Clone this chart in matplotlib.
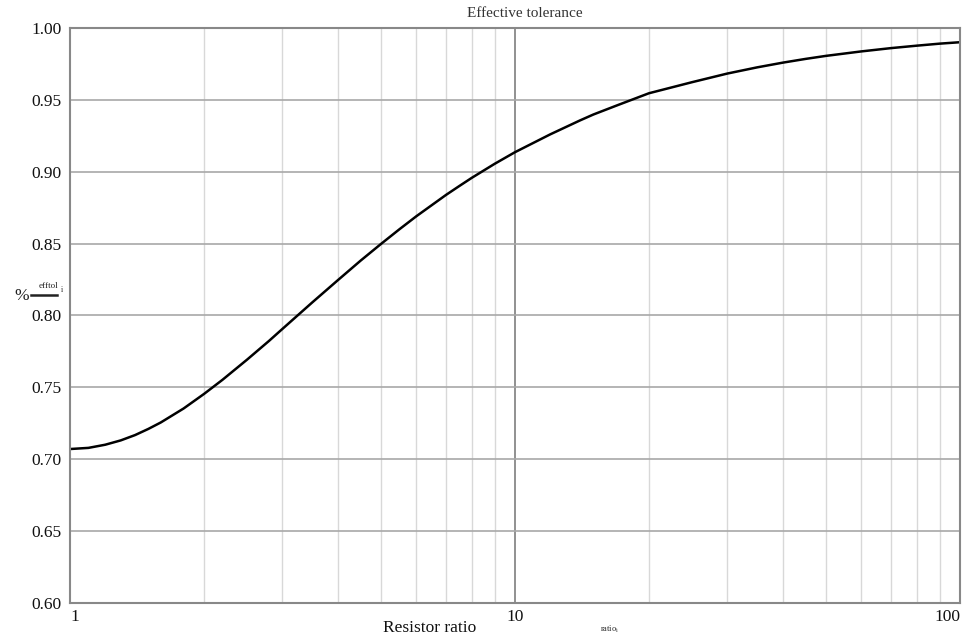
import matplotlib
matplotlib.use("Agg")
import matplotlib.pyplot as plt
from matplotlib.ticker import FixedLocator, NullFormatter

ratio = [1, 1.1, 1.2, 1.3, 1.4, 1.5, 1.6, 1.8, 2, 2.2, 2.5, 2.8, 3, 3.5, 4, 4.5, 5, 5.5, 6, 7,
         7.5, 8, 9, 10, 12, 14, 15, 17, 20, 25, 30, 35, 40, 45, 50, 60, 70, 80, 90, 100]
efftol = [0.7071, 0.7079, 0.7101, 0.7131, 0.7168, 0.7211, 0.7256, 0.7353, 0.7454, 0.7552,
          0.7693, 0.7823, 0.7906, 0.8090, 0.8246, 0.8382, 0.8498, 0.8600, 0.8690, 0.8839,
          0.8901, 0.8958, 0.9055, 0.9136, 0.9260, 0.9357, 0.9398, 0.9463, 0.9546, 0.9623,
          0.9683, 0.9726, 0.9759, 0.9785, 0.9806, 0.9837, 0.9860, 0.9877, 0.9891, 0.9901]
yticks = [0.60, 0.65, 0.70, 0.75, 0.80, 0.85, 0.90, 0.95, 1.00]
xticks = [1, 10, 100]
xminor = [2, 3, 4, 5, 6, 7, 8, 9, 20, 30, 40, 50, 60, 70, 80, 90]

plt.rcParams['font.family'] = ['Liberation Serif', 'DejaVu Serif']

fig = plt.figure(figsize=(9.75, 6.36), dpi=100)
ax = fig.add_axes([0.0718, 0.0519, 0.9128, 0.9041])

ax.set_xscale('log')
ax.set_xlim(1, 100)
ax.set_ylim(0.60, 1.00)

ax.xaxis.set_major_locator(FixedLocator(xticks))
ax.xaxis.set_minor_locator(FixedLocator(xminor))
ax.xaxis.set_minor_formatter(NullFormatter())
ax.set_xticklabels(['1', '10', '100'])
ax.set_yticks(yticks)
ax.set_yticklabels([f"{v:.2f}" for v in yticks])

ax.grid(which='minor', axis='x', color='#d8d8d8', lw=1.0)
ax.grid(which='major', axis='x', color='#888888', lw=1.3)
ax.grid(which='major', axis='y', color='#a8a8a8', lw=1.2)
ax.set_axisbelow(True)

for s in ax.spines.values():
    s.set_color('#888888')
    s.set_linewidth(1.5)

ax.tick_params(which='both', length=0, labelsize=12.5, colors='#111111')
ax.tick_params(axis='x', pad=4)
ax.tick_params(axis='y', pad=6)
xl = ax.get_xticklabels()
xl[0].set_horizontalalignment('left')
xl[2].set_horizontalalignment('right')

ax.plot(ratio, efftol, color='black', lw=1.8, solid_joinstyle='round')

fig.text(0.538, 0.978, 'Effective tolerance', ha='center', va='center', fontsize=11, color='#333333')
fig.text(0.441, 0.013, 'Resistor ratio', ha='center', va='center', fontsize=12.5, color='#111111')
fig.text(0.625, 0.01, r'ratio$_{\mathregular{i}}$', ha='center', va='center', fontsize=6, color='#222222')

fig.text(0.022, 0.535, '%', ha='center', va='center', fontsize=12.5, color='#222222')
fig.text(0.050, 0.551, 'efftol', ha='center', va='center', fontsize=6.5, color='#222222')
fig.text(0.064, 0.544, 'i', ha='center', va='center', fontsize=5.5, color='#222222')
fig.add_artist(plt.Line2D([0.032, 0.058], [0.536, 0.536], transform=fig.transFigure, color='#222222', lw=1.8))

fig.savefig('out.png', dpi=100)
